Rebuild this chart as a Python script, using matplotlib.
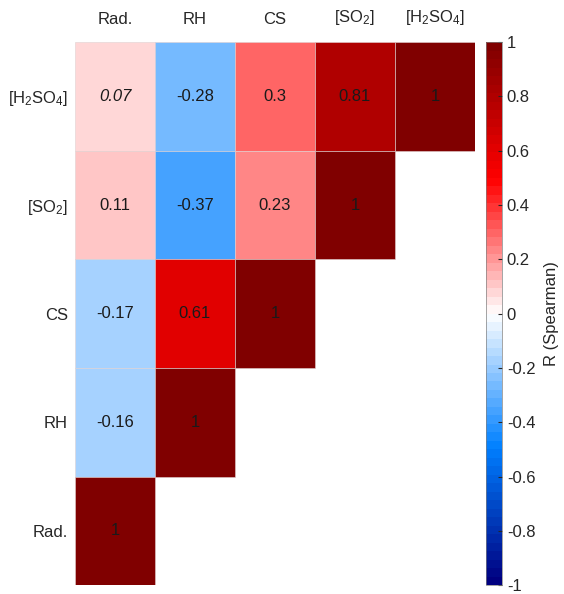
import matplotlib
matplotlib.use("Agg")
import matplotlib.pyplot as plt
import numpy as np
from matplotlib.colors import LinearSegmentedColormap, Normalize
from matplotlib.patches import Rectangle
import matplotlib.cm as cm

plt.rcParams["font.family"] = ["Liberation Sans", "DejaVu Sans"]
plt.rcParams["mathtext.fontset"] = "custom"
plt.rcParams["mathtext.rm"] = "Liberation Sans"
plt.rcParams["mathtext.it"] = "Liberation Sans:italic"
FS = 12

# columns left -> right, rows top -> bottom
COL_LABELS = ["Rad.", "RH", "CS", r"[SO$_2$]", r"[H$_2$SO$_4$]"]
ROW_LABELS = [r"[H$_2$SO$_4$]", r"[SO$_2$]", "CS", "RH", "Rad."]

# triangular Spearman R (row i holds 5-i values)
R_H2SO4 = [0.07, -0.28, 0.3, 0.81, 1]
R_SO2 = [0.11, -0.37, 0.23, 1]
R_CS = [-0.17, 0.61, 1]
R_RH = [-0.16, 1]
R_RAD = [1]
ROWS = [R_H2SO4, R_SO2, R_CS, R_RH, R_RAD]

# not significant -> italic
ITALIC = [(0, 0)]

CBAR_TICKS = np.round(np.arange(-1, 1.01, 0.2), 1)

n = len(COL_LABELS)

cmap = LinearSegmentedColormap.from_list(
    "redblue",
    [(0.0, (0, 0, 0.5)), (0.25, (0, 0.5, 1)), (0.5, (1, 1, 1)),
     (0.75, (1, 0, 0)), (1.0, (0.5, 0, 0))],
    N=64,
)
norm = Normalize(vmin=-1, vmax=1)

fig = plt.figure(figsize=(5.64, 5.94), dpi=100)
ax = fig.add_axes([0.133, 0.015, 0.709, 0.914])
cax = fig.add_axes([0.862, 0.015, 0.028, 0.914])

for i, row in enumerate(ROWS):
    for j, v in enumerate(row):
        ax.add_patch(Rectangle((j, i), 1, 1, facecolor=cmap(norm(v)),
                               edgecolor=(0.88, 0.82, 0.82), linewidth=0.4))
        style = "italic" if (i, j) in ITALIC else "normal"
        ax.text(j + 0.5, i + 0.5, f"{v:g}", ha="center", va="center",
                fontsize=FS, style=style, color="#1a1a1a")

ax.set_xlim(0, n)
ax.set_ylim(n, 0)
for s in ax.spines.values():
    s.set_visible(False)

ax.xaxis.tick_top()
ax.set_xticks(np.arange(n) + 0.5)
ax.set_xticklabels(COL_LABELS)
ax.set_yticks(np.arange(n) + 0.5)
ax.set_yticklabels(ROW_LABELS)
ax.tick_params(length=0, colors="#262626", labelsize=FS)
ax.tick_params(axis="y", pad=5)
ax.tick_params(axis="x", pad=11)

sm = cm.ScalarMappable(norm=norm, cmap=cmap)
cb = fig.colorbar(sm, cax=cax, ticks=CBAR_TICKS)
cb.ax.set_yticklabels(["0" if t == 0 else f"{t:g}" for t in CBAR_TICKS])
cb.ax.tick_params(direction="in", length=3, colors="#262626", labelsize=FS)
cb.outline.set_edgecolor("#808080")
cb.outline.set_linewidth(0.5)
cb.set_label("R (Spearman)", color="#262626", fontsize=FS, labelpad=6)

fig.savefig("out.png", dpi=100)
